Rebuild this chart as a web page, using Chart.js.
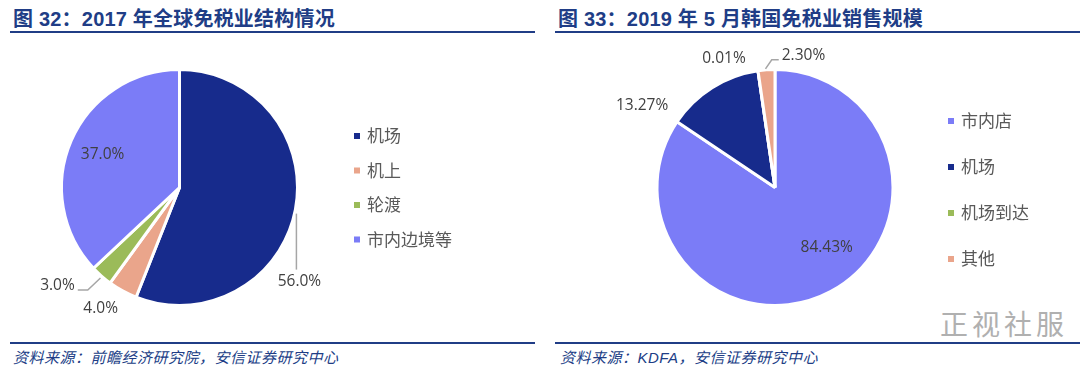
<!DOCTYPE html>
<html>
<head>
<meta charset="utf-8">
<script src="https://cdn.jsdelivr.net/npm/chart.js@4.4.1/dist/chart.umd.min.js"></script>
<style>
  body { margin: 0; width: 1080px; height: 375px; background: #fff; position: relative; overflow: hidden; }
  .title { position: absolute; top: 3px; font: bold 20px "Liberation Sans", "Noto Sans CJK SC", sans-serif; color: #203d86; letter-spacing: 0.2px; white-space: nowrap; }
  .rule { position: absolute; height: 2px; background: #203d86; }
  .src { position: absolute; top: 346px; font: italic 15px "Liberation Sans", "Noto Sans CJK SC", sans-serif; color: #203d86; letter-spacing: 0.5px; white-space: nowrap; }
  .wm { position: absolute; left: 940px; top: 303px; font: 28px "Noto Sans CJK SC", sans-serif; color: #b0b0b0; letter-spacing: 4px; }
  canvas { position: absolute; top: 40px; }
</style>
</head>
<body>
<div class="title" style="left:13px">图 32：2017 年全球免税业结构情况</div>
<div class="title" style="left:558px">图 33：2019 年 5 月韩国免税业销售规模</div>
<div class="rule" style="left:10px; width:525px; top:31px"></div>
<div class="rule" style="left:555px; width:525px; top:31px"></div>
<div class="rule" style="left:10px; width:525px; top:342px; height:1.5px"></div>
<div class="rule" style="left:555px; width:525px; top:342px; height:1.5px"></div>
<div class="src" style="left:13px">资料来源：前瞻经济研究院，安信证券研究中心</div>
<div class="src" style="left:560px">资料来源：KDFA，安信证券研究中心</div>
<div class="wm">正视社服</div>
<canvas id="c1" width="540" height="295" style="left:0"></canvas>
<canvas id="c2" width="540" height="295" style="left:540px"></canvas>
<script>
// 2017 global duty-free structure
const cats1 = ["机场", "机上", "轮渡", "市内边境等"];
const vals1 = [56.0, 4.0, 3.0, 37.0];
const colors1 = ["#172b8c", "#eaa58b", "#9bbb59", "#7b7cf7"];

// May 2019 Korea duty-free sales
const cats2 = ["市内店", "机场", "机场到达", "其他"];
const vals2 = [84.43, 13.27, 0.01, 2.30];
const colors2 = ["#7b7cf7", "#172b8c", "#9bbb59", "#eaa58b"];

const pieLabels = {
  id: "pieLabels",
  afterDatasetsDraw(chart, args, opts) {
    const ctx = chart.ctx;
    const arcs = chart.getDatasetMeta(0).data;
    const values = chart.data.datasets[0].data;
    ctx.save();
    ctx.font = "15.5px 'Open Sans', sans-serif";
    ctx.textAlign = "center";
    ctx.textBaseline = "middle";
    arcs.forEach((arc, i) => {
      const p = opts.place[i];
      const mid = (arc.startAngle + arc.endAngle) / 2;
      const cos = Math.cos(mid), sin = Math.sin(mid);
      const ex = arc.x + cos * arc.outerRadius, ey = arc.y + sin * arc.outerRadius;
      const lx = arc.x + cos * arc.outerRadius * p.r + p.dx;
      const ly = arc.y + sin * arc.outerRadius * p.r + p.dy;
      const txt = values[i].toFixed(opts.decimals) + "%";
      const w = ctx.measureText(txt).width;
      ctx.strokeStyle = "#a6a6a6";
      ctx.lineWidth = 1.5;
      if (p.leader === "down") {
        ctx.beginPath();
        ctx.moveTo(ex + 1, ey + 4);
        ctx.lineTo(ex + 1, ly - 12);
        ctx.stroke();
      } else if (p.leader === "left") {
        const endX = lx + w / 2 + 3, endY = ly + 4;
        ctx.beginPath();
        ctx.moveTo(ex - 1, ey + 2);
        ctx.lineTo(endX + 10, endY);
        ctx.lineTo(endX, endY);
        ctx.stroke();
      } else if (p.leader === "right") {
        const endX = lx - w / 2 - 3, endY = ly + 4;
        ctx.beginPath();
        ctx.moveTo(ex - 1, ey - 1);
        ctx.lineTo(endX - 7, endY);
        ctx.lineTo(endX, endY);
        ctx.stroke();
      }
      ctx.fillStyle = "#404040";
      ctx.fillText(txt, lx, ly);
    });
    ctx.restore();
  },
};

const sideLegend = {
  id: "sideLegend",
  afterDraw(chart, args, opts) {
    const ctx = chart.ctx;
    const ds = chart.data.datasets[0];
    ctx.save();
    ctx.font = "17px 'Noto Sans CJK SC', sans-serif";
    ctx.textBaseline = "middle";
    chart.data.labels.forEach((lab, i) => {
      const y = opts.y + i * opts.step;
      ctx.fillStyle = ds.backgroundColor[i];
      ctx.fillRect(opts.x, y - 3, 6, 6);
      ctx.fillStyle = "#595959";
      ctx.fillText(lab, opts.x + 13, y);
    });
    ctx.restore();
  },
};

function makePie(id, labels, values, colors, padding, place, decimals, legend) {
  return new Chart(document.getElementById(id), {
    type: "pie",
    data: {
      labels: labels,
      datasets: [{ data: values, backgroundColor: colors, borderColor: "#fff", borderWidth: 3 }],
    },
    options: {
      responsive: false,
      animation: false,
      layout: { padding: padding },
      plugins: {
        legend: { display: false },
        tooltip: { enabled: false },
        pieLabels: { place: place, decimals: decimals },
        sideLegend: legend,
      },
    },
    plugins: [pieLabels, sideLegend],
  });
}

makePie("c1", cats1, vals1, colors1,
  { left: 60, right: 241, top: 28, bottom: 28 },
  [
    { r: 1.0, dx: 4, dy: 72, leader: "down" },
    { r: 1.0, dx: -22, dy: 18 },
    { r: 1.0, dx: -44, dy: 10, leader: "left" },
    { r: 0.71, dx: 0, dy: 0 },
  ], 1,
  { x: 354, y: 96, step: 34.5 });

makePie("c2", cats2, vals2, colors2,
  { left: 115, right: 185, top: 28, bottom: 28 },
  [
    { r: 0.5, dx: 24, dy: 8 },
    { r: 1.0, dx: -70, dy: 18 },
    { r: 1.0, dx: -34, dy: -12 },
    { r: 1.0, dx: 37, dy: -14, leader: "right" },
  ], 2,
  { x: 408, y: 81, step: 46 });
</script>
</body>
</html>
